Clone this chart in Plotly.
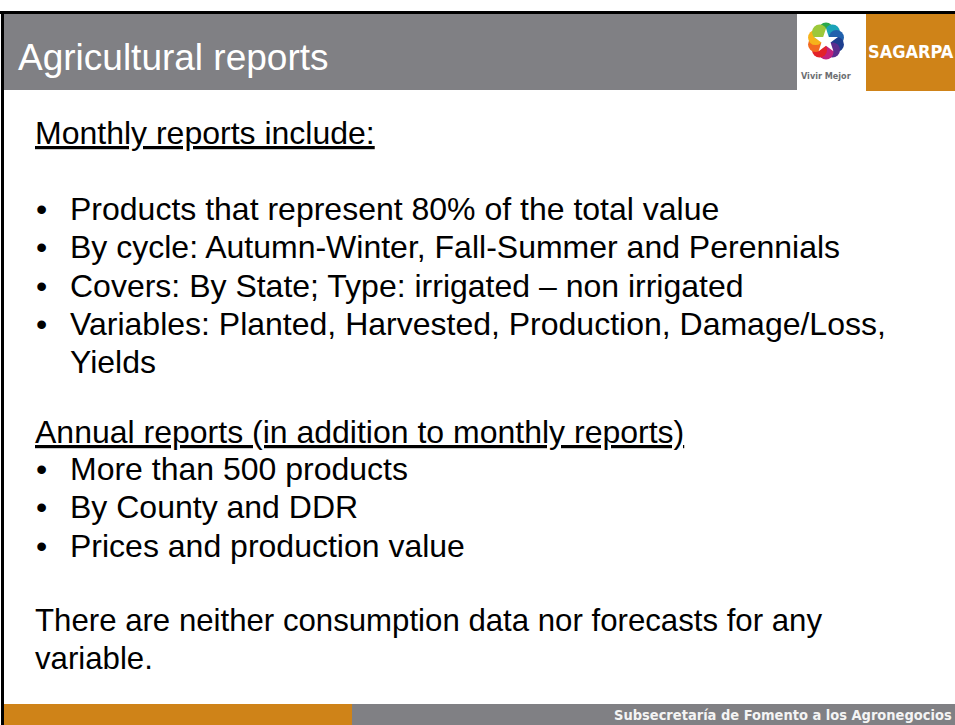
import math
import plotly.graph_objects as go

# ---- slide content ----
title_text = "Agricultural reports"
brand_text = "SAGARPA"
logo_caption = "Vivir Mejor"
footer_text = "Subsecretaría de Fomento a los Agronegocios"

heading_1 = "Monthly reports include:"
monthly_items = [
    "Products that represent 80% of the total value",
    "By cycle: Autumn-Winter, Fall-Summer and Perennials",
    "Covers: By State; Type: irrigated \u2013 non irrigated",
    "Variables: Planted, Harvested, Production, Damage/Loss,",
]
monthly_continuation = "Yields"
heading_2 = "Annual reports (in addition to monthly reports)"
annual_items = [
    "More than 500 products",
    "By County and DDR",
    "Prices and production value",
]
closing_lines = [
    "There are neither consumption data nor forecasts for any",
    "variable.",
]

petal_colors = ["#2aa84a", "#1aa3b8", "#2161ad", "#1d3f8f", "#5b2d8e",
                "#c2227f", "#e32229", "#f26a21", "#f6b31b", "#9cc83a"]

# ---- style ----
W, H = 955, 725
GRAY = "#808084"
ORANGE = "#CF8318"
BODY_FONT = "Liberation Sans, Arial, sans-serif"
NARROW_FONT = "Liberation Sans Narrow, DejaVu Sans Condensed, Arial Narrow, sans-serif"
BODY_SIZE = 32
CLOSING_SIZE = 31.2
LINE = 38.3

fig = go.Figure()

shapes = [
    dict(type="rect", x0=0, x1=W, y0=11, y1=14, fillcolor="black", line_width=0),
    dict(type="rect", x0=1, x1=4, y0=11, y1=H, fillcolor="black", line_width=0),
    dict(type="rect", x0=4, x1=797, y0=14, y1=90, fillcolor=GRAY, line_width=0),
    dict(type="rect", x0=866, x1=W, y0=14, y1=91, fillcolor=ORANGE, line_width=0),
    dict(type="rect", x0=4, x1=352, y0=704, y1=H, fillcolor=ORANGE, line_width=0),
    dict(type="rect", x0=352, x1=W, y0=704, y1=H, fillcolor=GRAY, line_width=0),
]

# logo petals
n = len(petal_colors)
cx, cy, r = 826, 41, 11
px = [cx + r * math.sin(2 * math.pi * i / n) for i in range(n)]
py = [cy - r * math.cos(2 * math.pi * i / n) for i in range(n)]
fig.add_trace(go.Scatter(x=px, y=py, mode="markers", hoverinfo="skip",
                         marker=dict(size=15, color=petal_colors, line_width=0)))
fig.add_trace(go.Scatter(x=[cx], y=[cy], mode="markers", hoverinfo="skip",
                         marker=dict(size=18, color="white", symbol="star", line_width=0)))

ann = []
def text(x, y, s, size=BODY_SIZE, color="black", family=BODY_FONT, xanchor="left"):
    ann.append(dict(x=x, y=y, text=s, showarrow=False, xanchor=xanchor, yanchor="middle",
                    font=dict(size=size, color=color, family=family)))

text(16, 57, title_text, size=37, color="white")
text(911, 51, "<b>" + brand_text + "</b>", size=18, color="white", family=NARROW_FONT, xanchor="center")
text(826, 76, "<b>" + logo_caption + "</b>", size=9, color="#6d6e71", family=NARROW_FONT, xanchor="center")
text(954, 715, "<b>" + footer_text + "</b>", size=14.5, color="#f4f4f4", family=NARROW_FONT, xanchor="right")

text(33, 133, "<u>" + heading_1 + "</u>")
y0 = 209
for i, item in enumerate(monthly_items):
    y = y0 + i * LINE
    text(34, y, "\u2022")
    text(68, y, item)
text(68, y0 + len(monthly_items) * LINE, monthly_continuation)

text(33, 432, "<u>" + heading_2 + "</u>")
y1 = 469
for i, item in enumerate(annual_items):
    y = y1 + i * LINE
    text(34, y, "\u2022")
    text(68, y, item)

y2 = 620
for i, line in enumerate(closing_lines):
    text(33, y2 + i * LINE, line, size=CLOSING_SIZE)

fig.update_layout(
    width=W, height=H, margin=dict(l=0, r=0, t=0, b=0),
    paper_bgcolor="white", plot_bgcolor="white", showlegend=False,
    xaxis=dict(range=[0, W], visible=False, fixedrange=True),
    yaxis=dict(range=[H, 0], visible=False, fixedrange=True),
    shapes=shapes, annotations=ann,
)
fig.write_html(
    "out.html",
    config={"displayModeBar": False},
    post_script="document.body.style.margin='0';document.body.style.overflow='hidden';",
)
